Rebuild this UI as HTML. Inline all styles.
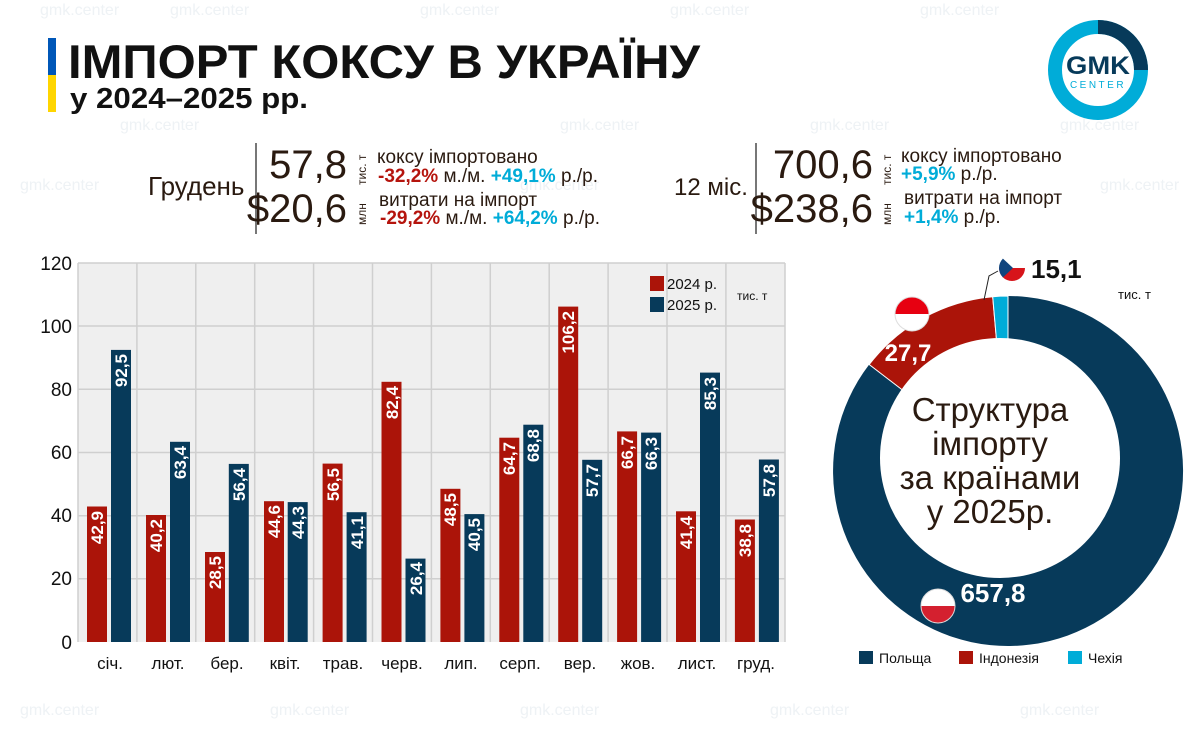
<!DOCTYPE html>
<html><head><meta charset="utf-8"><style>
html,body{margin:0;padding:0;background:#fff}
svg{display:block}
text{font-family:"Liberation Sans",sans-serif}
.n{font-family:"Liberation Sans Narrow","Liberation Sans",sans-serif}
</style></head><body>
<svg width="1200" height="730" viewBox="0 0 1200 730" xmlns="http://www.w3.org/2000/svg">
<rect width="1200" height="730" fill="#fff"/>
<g fill="#eef2f5" font-size="16">
<text x="40" y="15">gmk.center</text><text x="170" y="15">gmk.center</text><text x="420" y="15">gmk.center</text><text x="670" y="15">gmk.center</text><text x="920" y="15">gmk.center</text>
<text x="120" y="130">gmk.center</text><text x="560" y="130">gmk.center</text><text x="810" y="130">gmk.center</text><text x="1060" y="130">gmk.center</text>
<text x="20" y="190">gmk.center</text><text x="520" y="190">gmk.center</text><text x="1100" y="190">gmk.center</text>
<text x="20" y="715">gmk.center</text><text x="270" y="715">gmk.center</text><text x="520" y="715">gmk.center</text><text x="770" y="715">gmk.center</text><text x="1020" y="715">gmk.center</text>
</g>
<rect x="48" y="38" width="8" height="37" fill="#0057b8"/>
<rect x="48" y="75" width="8" height="37" fill="#ffd500"/>
<text x="68" y="78" font-size="47" font-weight="bold" fill="#111" textLength="632" lengthAdjust="spacingAndGlyphs">ІМПОРТ КОКСУ В УКРАЇНУ</text>
<text x="70" y="108" font-size="29" font-weight="bold" fill="#111" textLength="238" lengthAdjust="spacingAndGlyphs">у 2024–2025 рр.</text>
<circle cx="1098" cy="70" r="43" fill="none" stroke="#00acd8" stroke-width="14"/>
<path d="M1098,27 A43,43 0 0 1 1141,70" fill="none" stroke="#073a5a" stroke-width="14"/>
<text x="1098" y="74" font-size="25" font-weight="bold" fill="#073a5a" text-anchor="middle" textLength="64" lengthAdjust="spacingAndGlyphs">GMK</text>
<text x="1098" y="88" font-size="10" fill="#00acd8" text-anchor="middle" letter-spacing="2.5">CENTER</text>
<g fill="#2a1a10">
<text x="148" y="195" font-size="26">Грудень</text>
<rect x="255" y="143" width="2" height="91" fill="#777"/>
<text x="347" y="178" font-size="40" text-anchor="end" class="n">57,8</text>
<text x="347" y="222" font-size="40" text-anchor="end" class="n">$20,6</text>
<text transform="translate(366,185) rotate(-90)" font-size="12">тис. т</text>
<text transform="translate(366,225) rotate(-90)" font-size="12">млн</text>
<text x="377" y="163" font-size="19">коксу імпортовано</text>
<text x="378" y="182" font-size="19"><tspan fill="#b5140d" font-weight="bold">-32,2%</tspan> м./м. <tspan fill="#00acd8" font-weight="bold">+49,1%</tspan> р./р.</text>
<text x="379" y="206" font-size="19">витрати на імпорт</text>
<text x="380" y="224" font-size="19"><tspan fill="#b5140d" font-weight="bold">-29,2%</tspan> м./м. <tspan fill="#00acd8" font-weight="bold">+64,2%</tspan> р./р.</text>
<text x="674" y="195" font-size="24">12 міс.</text>
<rect x="755" y="143" width="2" height="91" fill="#777"/>
<text x="873" y="178" font-size="40" text-anchor="end">700,6</text>
<text x="873" y="222" font-size="40" text-anchor="end">$238,6</text>
<text transform="translate(891,185) rotate(-90)" font-size="12">тис. т</text>
<text transform="translate(891,225) rotate(-90)" font-size="12">млн</text>
<text x="901" y="162" font-size="19">коксу імпортовано</text>
<text x="901" y="180" font-size="19"><tspan fill="#00acd8" font-weight="bold">+5,9%</tspan> р./р.</text>
<text x="904" y="204" font-size="19">витрати на імпорт</text>
<text x="904" y="223" font-size="19"><tspan fill="#00acd8" font-weight="bold">+1,4%</tspan> р./р.</text>
</g>
<rect x="78" y="263" width="707" height="379" fill="#efefef"/>
<g stroke="#cfcfcf" stroke-width="1.5">
<line x1="78" y1="263" x2="785" y2="263"/><line x1="78" y1="326" x2="785" y2="326"/><line x1="78" y1="389.3" x2="785" y2="389.3"/><line x1="78" y1="452.5" x2="785" y2="452.5"/><line x1="78" y1="515.7" x2="785" y2="515.7"/><line x1="78" y1="578.8" x2="785" y2="578.8"/>
<line x1="78" y1="263" x2="78" y2="642"/><line x1="136.9" y1="263" x2="136.9" y2="642"/><line x1="195.8" y1="263" x2="195.8" y2="642"/><line x1="254.7" y1="263" x2="254.7" y2="642"/><line x1="313.6" y1="263" x2="313.6" y2="642"/><line x1="372.5" y1="263" x2="372.5" y2="642"/><line x1="431.4" y1="263" x2="431.4" y2="642"/><line x1="490.3" y1="263" x2="490.3" y2="642"/><line x1="549.2" y1="263" x2="549.2" y2="642"/><line x1="608.1" y1="263" x2="608.1" y2="642"/><line x1="667" y1="263" x2="667" y2="642"/><line x1="725.9" y1="263" x2="725.9" y2="642"/><line x1="785" y1="263" x2="785" y2="642"/>
</g>
<g fill="#111" font-size="19" text-anchor="end" class="n">
<text x="72" y="270">120</text><text x="72" y="333">100</text><text x="72" y="396">80</text><text x="72" y="459">60</text><text x="72" y="522">40</text><text x="72" y="585">20</text><text x="72" y="649">0</text>
</g>
<g fill="#ab1409">
<rect x="87" y="506.5" width="20" height="135.5"/><rect x="146" y="515" width="20" height="127"/><rect x="205" y="552" width="20" height="90"/><rect x="264" y="501.2" width="20" height="140.8"/><rect x="322.6" y="463.6" width="20" height="178.4"/><rect x="381.5" y="381.8" width="20" height="260.2"/><rect x="440.4" y="488.8" width="20" height="153.2"/><rect x="499.3" y="437.7" width="20" height="204.3"/><rect x="558.2" y="306.6" width="20" height="335.4"/><rect x="617.1" y="431.4" width="20" height="210.6"/><rect x="676" y="511.3" width="20" height="130.7"/><rect x="734.9" y="519.5" width="20" height="122.5"/>
</g>
<g fill="#073a5a">
<rect x="111" y="349.9" width="20" height="292.1"/><rect x="170" y="441.8" width="20" height="200.2"/><rect x="228.8" y="463.9" width="20" height="178.1"/><rect x="287.7" y="502.1" width="20" height="139.9"/><rect x="346.6" y="512.2" width="20" height="129.8"/><rect x="405.5" y="558.6" width="20" height="83.4"/><rect x="464.4" y="514.1" width="20" height="127.9"/><rect x="523.3" y="424.7" width="20" height="217.3"/><rect x="582.2" y="459.8" width="20" height="182.2"/><rect x="641.1" y="432.6" width="20" height="209.4"/><rect x="700" y="372.6" width="20" height="269.4"/><rect x="758.9" y="459.5" width="20" height="182.5"/>
</g>
<g fill="#fff" font-size="17" font-weight="bold" text-anchor="end">
<text transform="translate(103,511) rotate(-90)">42,9</text>
<text transform="translate(127,354) rotate(-90)">92,5</text>
<text transform="translate(162,519) rotate(-90)">40,2</text>
<text transform="translate(186,446) rotate(-90)">63,4</text>
<text transform="translate(221,556) rotate(-90)">28,5</text>
<text transform="translate(245,468) rotate(-90)">56,4</text>
<text transform="translate(280,505) rotate(-90)">44,6</text>
<text transform="translate(304,506) rotate(-90)">44,3</text>
<text transform="translate(339,468) rotate(-90)">56,5</text>
<text transform="translate(363,516) rotate(-90)">41,1</text>
<text transform="translate(398,386) rotate(-90)">82,4</text>
<text transform="translate(422,562) rotate(-90)">26,4</text>
<text transform="translate(456,493) rotate(-90)">48,5</text>
<text transform="translate(480,518) rotate(-90)">40,5</text>
<text transform="translate(515,442) rotate(-90)">64,7</text>
<text transform="translate(539,429) rotate(-90)">68,8</text>
<text transform="translate(574,311) rotate(-90)">106,2</text>
<text transform="translate(598,464) rotate(-90)">57,7</text>
<text transform="translate(633,436) rotate(-90)">66,7</text>
<text transform="translate(657,437) rotate(-90)">66,3</text>
<text transform="translate(692,516) rotate(-90)">41,4</text>
<text transform="translate(716,377) rotate(-90)">85,3</text>
<text transform="translate(751,524) rotate(-90)">38,8</text>
<text transform="translate(775,464) rotate(-90)">57,8</text>
</g>
<g fill="#111" font-size="17" text-anchor="middle" class="n">
<text x="110" y="669">січ.</text><text x="168" y="669">лют.</text><text x="227" y="669">бер.</text><text x="285" y="669">квіт.</text><text x="343" y="669">трав.</text><text x="402" y="669">черв.</text><text x="461" y="669">лип.</text><text x="520" y="669">серп.</text><text x="580" y="669">вер.</text><text x="638" y="669">жов.</text><text x="697" y="669">лист.</text><text x="756" y="669">груд.</text>
</g>
<rect x="650" y="276" width="14" height="15" fill="#ab1409"/>
<rect x="650" y="297" width="14" height="15" fill="#073a5a"/>
<text x="667" y="289" font-size="15" fill="#111" class="n">2024 р.</text>
<text x="667" y="310" font-size="15" fill="#111" class="n">2025 р.</text>
<text x="737" y="300" font-size="12" fill="#111">тис. т</text>
<!-- donut as pie + offset hole -->
<path d="M1008,471 L1008,296 A175,175 0 1 1 869.2,364.5 Z" fill="#073a5a"/>
<path d="M1008,471 L869.2,364.5 A175,175 0 0 1 992.7,296.7 Z" fill="#ab1409" stroke="#fff" stroke-width="1"/>
<path d="M1008,471 L992.7,296.7 A175,175 0 0 1 1008,296 Z" fill="#00acd8" stroke="#fff" stroke-width="1"/>
<circle cx="1000" cy="458" r="120" fill="#fff"/>
<polyline points="984,300 989,276 998,271" fill="none" stroke="#222" stroke-width="1"/>
<clipPath id="c1"><circle cx="1012" cy="268" r="13"/></clipPath>
<g clip-path="url(#c1)"><rect x="998" y="254" width="28" height="14" fill="#fff"/><rect x="998" y="268" width="28" height="14" fill="#d7141a"/><polygon points="998,254 1013,268 998,282" fill="#11457e"/></g>
<clipPath id="c2"><circle cx="912" cy="314" r="17"/></clipPath>
<g clip-path="url(#c2)"><rect x="894" y="296" width="36" height="18" fill="#e70011"/><rect x="894" y="314" width="36" height="18" fill="#fff"/></g>
<circle cx="912" cy="314" r="17" fill="none" stroke="#ddd" stroke-width="1"/>
<clipPath id="c3"><circle cx="938" cy="606" r="17"/></clipPath>
<g clip-path="url(#c3)"><rect x="920" y="588" width="36" height="18" fill="#fff"/><rect x="920" y="606" width="36" height="18" fill="#d4202f"/></g>
<circle cx="938" cy="606" r="17" fill="none" stroke="#ddd" stroke-width="1"/>
<text x="1031" y="278" font-size="26" font-weight="bold" fill="#111">15,1</text>
<text x="1118" y="299" font-size="13" fill="#111">тис. т</text>
<text x="908" y="361" font-size="24" font-weight="bold" fill="#fff" text-anchor="middle">27,7</text>
<text x="993" y="602" font-size="26" font-weight="bold" fill="#fff" text-anchor="middle">657,8</text>
<g fill="#2a1a10" font-size="33" text-anchor="middle">
<text x="990" y="421">Структура</text>
<text x="990" y="455">імпорту</text>
<text x="990" y="489">за країнами</text>
<text x="990" y="523">у 2025р.</text>
</g>
<rect x="859" y="651" width="14" height="13" fill="#073a5a"/>
<text x="879" y="663" font-size="14" fill="#111">Польща</text>
<rect x="959" y="651" width="14" height="13" fill="#ab1409"/>
<text x="979" y="663" font-size="14" fill="#111">Індонезія</text>
<rect x="1068" y="651" width="14" height="13" fill="#00acd8"/>
<text x="1088" y="663" font-size="14" fill="#111">Чехія</text>
</svg>
</body></html>
